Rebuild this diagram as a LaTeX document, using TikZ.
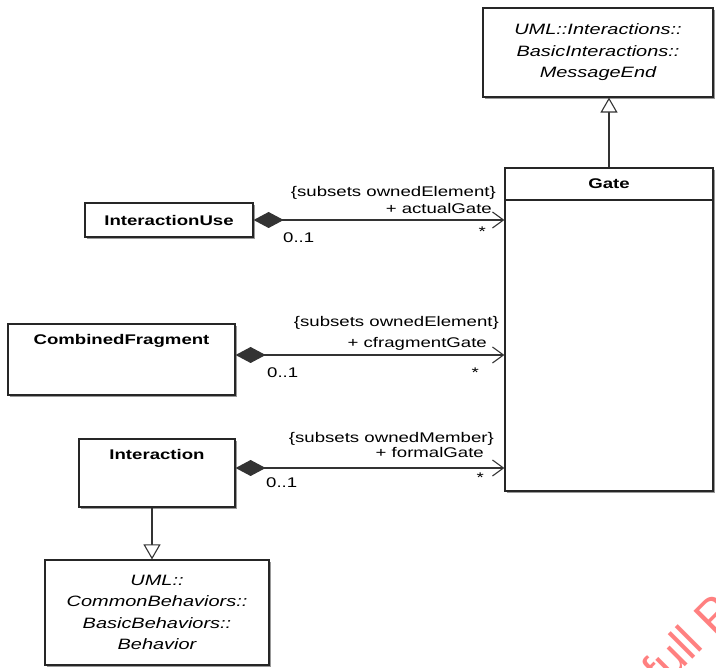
\documentclass[tikz,border=0pt]{standalone}
\usepackage{fontspec}
\setmainfont{Liberation Sans}[FakeStretch=1.33]
\newfontfamily\wmfont{Liberation Sans}
\usetikzlibrary{shapes,arrows.meta,shadows}

\begin{document}
\fontsize{14}{17}\selectfont
\begin{tikzpicture}[x=1pt, y=-1pt]
\tikzstyle{classbox}=[rectangle, draw=black!85, line width=1.2pt, fill=white, inner sep=2pt, drop shadow={shadow xshift=2pt, shadow yshift=-2pt, fill=black!40, opacity=1}]
\tikzstyle{absname}=[font=\fontsize{15}{21.5}\selectfont\itshape, align=center]
\tikzstyle{compstyle}=[line width=1.1pt, draw=black!80, {Diamond[length=30pt,width=16pt]}-{Straight Barb[length=11pt,width=16pt]}]
\tikzstyle{genstyle}=[line width=1.1pt, draw=black!80, -{Triangle[open,length=15pt,width=17pt,fill=white]}]
\tikzstyle{lbl}=[inner sep=0pt]

\useasboundingbox (0,0) rectangle (716,668);

\node[classbox, absname, minimum width=230, minimum height=89] (MsgEnd) at (598,52.5) {UML::Interactions::\\BasicInteractions::\\MessageEnd};
\node[classbox, minimum width=208, minimum height=32, font=\bfseries] (GateHead) at (609,184) {Gate};
\node[classbox, minimum width=208, minimum height=291] (GateBody) at (609,345.5) {};
\draw[genstyle] (GateHead.north) -- (GateHead.north |- MsgEnd.south);

\node[classbox, minimum width=168, minimum height=34, font=\bfseries] (IntUse) at (169,220) {InteractionUse};
\node[classbox, minimum width=227, minimum height=71, label={[anchor=north, yshift=-6, font=\bfseries]north:CombinedFragment}] (CombFrag) at (121.5,359.5) {};
\node[classbox, minimum width=156, minimum height=68, label={[anchor=north, yshift=-6, font=\bfseries]north:Interaction}] (Inter) at (157,473) {};
\node[classbox, absname, minimum width=224, minimum height=105] (Behav) at (157,612.5) {UML::\\CommonBehaviors::\\BasicBehaviors::\\Behavior};

\coordinate (CFout) at ([yshift=4.5]CombFrag.east);
\coordinate (Inout) at ([yshift=5]Inter.east);
\coordinate (Inbot) at ([xshift=-5]Inter.south);

\draw[compstyle] (IntUse.east) -- (IntUse.east -| GateBody.west)
  node[lbl, pos=1, anchor=base east, xshift=-8, yshift=23] {\{subsets ownedElement\}}
  node[lbl, pos=1, anchor=base east, xshift=-12, yshift=6] {+ actualGate}
  node[lbl, pos=1, anchor=base east, xshift=-18, yshift=-17] {*}
  node[lbl, pos=0, anchor=base west, xshift=29, yshift=-23] {0..1};
\draw[compstyle] (CFout) -- (CFout -| GateBody.west)
  node[lbl, pos=1, anchor=base east, xshift=-5, yshift=28] {\{subsets ownedElement\}}
  node[lbl, pos=1, anchor=base east, xshift=-17, yshift=7] {+ cfragmentGate}
  node[lbl, pos=1, anchor=base east, xshift=-25, yshift=-23] {*}
  node[lbl, pos=0, anchor=base west, xshift=31, yshift=-23] {0..1};
\draw[compstyle] (Inout) -- (Inout -| GateBody.west)
  node[lbl, pos=1, anchor=base east, xshift=-10, yshift=25] {\{subsets ownedMember\}}
  node[lbl, pos=1, anchor=base east, xshift=-20, yshift=10] {+ formalGate}
  node[lbl, pos=1, anchor=base east, xshift=-20, yshift=-15] {*}
  node[lbl, pos=0, anchor=base west, xshift=30, yshift=-20] {0..1};
\draw[genstyle] (Inbot) -- (Inbot |- Behav.north);

\begin{scope}
\clip (0,0) rectangle (716,668);
\node[text=red!50, font=\wmfont\fontsize{48}{48}\selectfont, rotate=45, anchor=base west, inner sep=0pt] (wmark) at (662,690) {full P};
\end{scope}
\end{tikzpicture}
\end{document}
